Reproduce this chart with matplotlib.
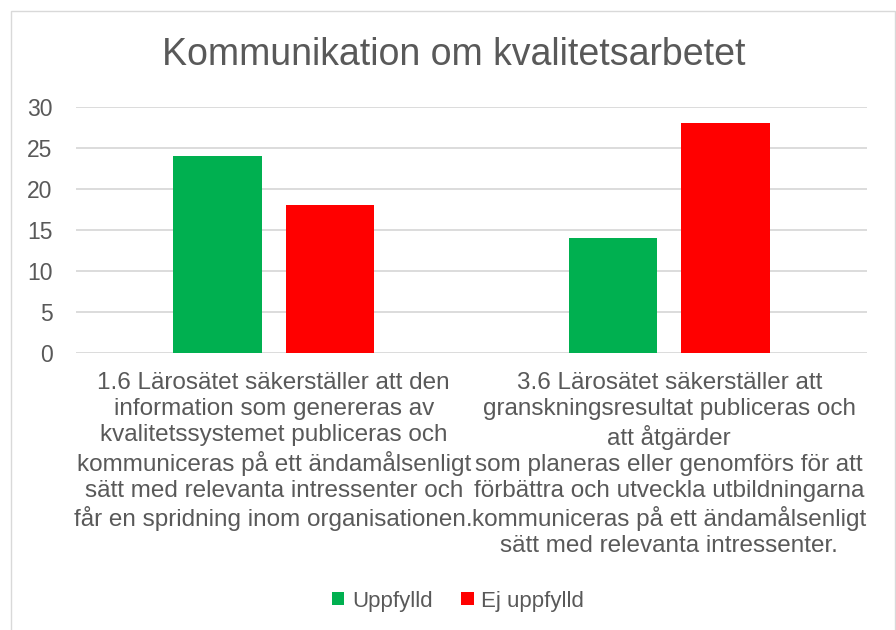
import matplotlib
matplotlib.use("Agg")
import matplotlib.pyplot as plt
from matplotlib.patches import Rectangle
import numpy as np

plt.rcParams['font.family'] = ['Liberation Sans', 'DejaVu Sans']

title = "Kommunikation om kvalitetsarbetet"
categories = [
    "1.6 Lärosätet säkerställer att den\ninformation som genereras av\nkvalitetssystemet publiceras och\nkommuniceras på ett ändamålsenligt\nsätt med relevanta intressenter och\nfår en spridning inom organisationen.",
    "3.6 Lärosätet säkerställer att\ngranskningsresultat publiceras och\natt åtgärder\nsom planeras eller genomförs för att\nförbättra och utveckla utbildningarna\nkommuniceras på ett ändamålsenligt\nsätt med relevanta intressenter.",
]
series_names = ["Uppfylld", "Ej uppfylld"]
uppfylld = [24, 14]
ej_uppfylld = [18, 28]
yticks = [0, 5, 10, 15, 20, 25, 30]

green = "#00B050"
red = "#FF0000"
txt = "#595959"
grid = "#D9D9D9"

fig = plt.figure(figsize=(8.96, 6.3), dpi=100)
fig.patch.set_facecolor("white")
# outer border
fig.add_artist(Rectangle((11/896, -0.01), (895-11)/896, (630-11)/630 + 0.01,
                         transform=fig.transFigure, fill=False,
                         edgecolor="#D9D9D9", linewidth=1.0))

ax = fig.add_axes([76/896, 277.5/630, 791/896, 245.8/630])
x = np.arange(len(categories))
w = 0.223
off = 0.142
ax.bar(x - off, uppfylld, width=w, color=green, label=series_names[0], zorder=3)
ax.bar(x + off, ej_uppfylld, width=w, color=red, label=series_names[1], zorder=3)

ax.set_xlim(-0.5, 1.5)
ax.set_ylim(0, 30)
ax.set_yticks(yticks)
ax.set_yticklabels([str(v) for v in yticks])
ax.yaxis.grid(True, color=grid, linewidth=1.3, zorder=0)
ax.set_axisbelow(True)
for s in ax.spines.values():
    s.set_visible(False)
ax.tick_params(axis='y', length=0, pad=17, labelsize=16.5, labelcolor=txt)
ax.set_xticks(x)
ax.set_xticklabels(categories, fontsize=17.5, color=txt, linespacing=1.235)
ax.tick_params(axis='x', length=0, pad=14)

fig.text(454/896, 1 - 65/630, title, ha='center', va='baseline', fontsize=27, color=txt)

leg = fig.legend(loc='center', bbox_to_anchor=(458/896, 1 - 601/630), ncol=2, frameon=False,
                 fontsize=16, labelcolor=txt, handlelength=0.55, handleheight=0.55,
                 handletextpad=0.35, columnspacing=1.3)

fig.savefig("out.png", dpi=100)
